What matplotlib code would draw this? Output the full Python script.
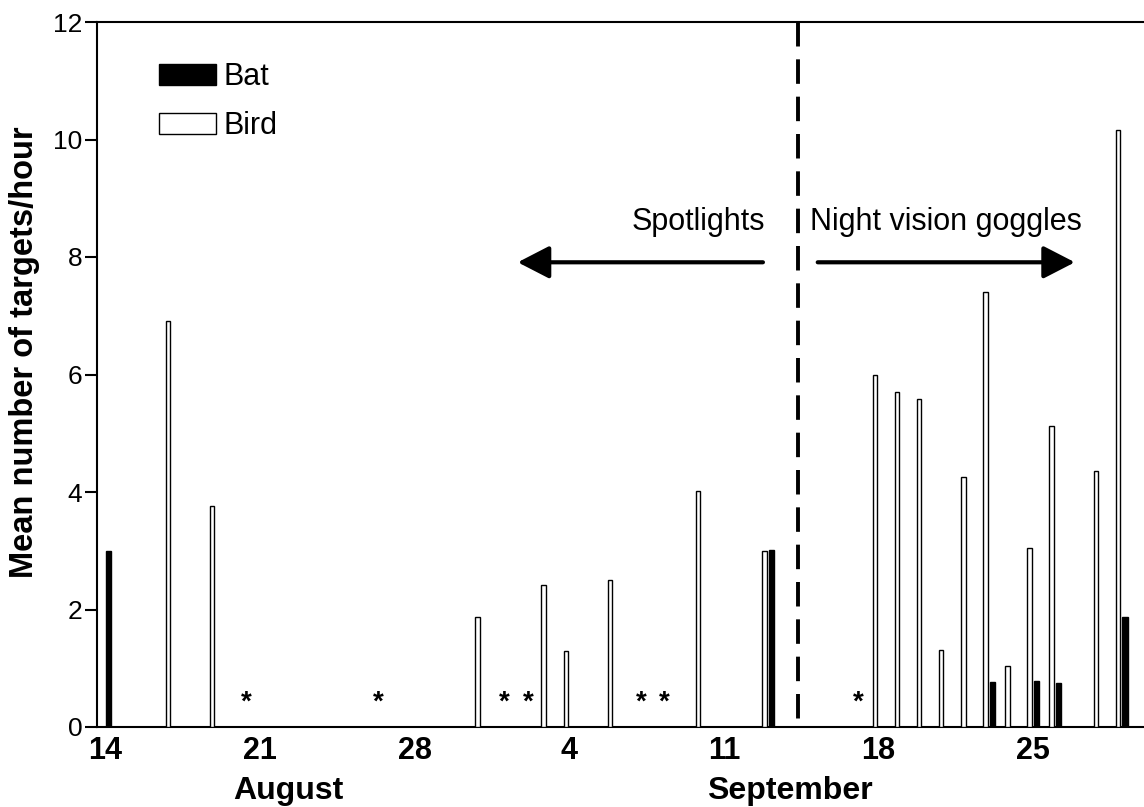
import matplotlib
matplotlib.use("Agg")
import matplotlib.pyplot as plt
from matplotlib.patches import Patch

plt.rcParams['font.family'] = ['Liberation Sans', 'DejaVu Sans']

# Nights, as days since 14 August
days = [0, 3, 5, 17, 20, 21, 23, 27, 30, 35, 36, 37, 38, 39, 40, 41, 42, 43, 45, 46]
bird = [0, 6.91, 3.76, 1.87, 2.42, 1.29, 2.50, 4.02, 3.00, 6.00, 5.71, 5.58,
        1.31, 4.25, 7.41, 1.04, 3.05, 5.13, 4.35, 10.16]
bat = [3.00, 0, 0, 0, 0, 0, 0, 0, 3.02, 0, 0, 0, 0, 0, 0.76, 0, 0.78, 0.75, 0, 1.87]

# nights without survey (asterisks), days since 14 August
no_survey = [6.4, 12.35, 18.05, 19.15, 24.25, 25.3, 34.1]

tick_days = [0, 7, 14, 21, 28, 35, 42]
tick_labels = ["14", "21", "28", "4", "11", "18", "25"]
months = ["August", "September"]
month_pos = [8.27, 31.0]

switch_day = 31.36

fig = plt.figure(figsize=(11.44, 8.07), dpi=100)
ax = fig.add_axes([97/1144, 80/807, 1 - 97/1144, (727-22)/807])

off = 0.158
ax.bar([d - off for d in days], bird, width=0.2, color='white', edgecolor='black',
       linewidth=1.0, label='Bird', zorder=3)
ax.bar([d + off for d in days], bat, width=0.24, color='black', edgecolor='black',
       linewidth=1.0, label='Bat', zorder=3)

for x in no_survey:
    ax.text(x, 0.3, "*", ha='center', va='baseline', fontsize=20, fontweight='bold')

ax.set_xlim(-0.376, 47.02)
ax.set_ylim(0, 12)
ax.set_yticks(range(0, 13, 2))
ax.set_xticks(tick_days)
ax.set_xticklabels(tick_labels, fontsize=22, fontweight='bold')
ax.tick_params(axis='x', length=0, pad=6.5)
ax.tick_params(axis='y', length=8.5, width=1.5, pad=2, labelsize=19)

for s in ['left', 'top', 'bottom']:
    ax.spines[s].set_linewidth(1.5)
ax.spines['right'].set_visible(False)

for m, p in zip(months, month_pos):
    ax.annotate(m, xy=(p, -0.0695), xycoords=('data', 'axes fraction'),
                ha='center', va='top', fontsize=23, fontweight='bold',
                annotation_clip=False)

ax.set_ylabel("Mean number of targets/hour", fontsize=23.5, fontweight='bold')
ax.yaxis.set_label_coords(-0.054, 0.532)

ax.plot([switch_day, switch_day], [12, 0], color='black', lw=2.8,
        dashes=(6.3, 3.3), zorder=4, clip_on=False)

ax.text(29.86, 8.6, "Spotlights", ha='right', va='center', fontsize=22)
ax.text(31.9, 8.6, "Night vision goggles", ha='left', va='center', fontsize=22)

ap = dict(arrowstyle='-|>,head_length=0.97,head_width=0.5', lw=3, color='black',
          mutation_scale=20, shrinkA=0, shrinkB=0)
ax.annotate("", xy=(18.67, 7.91), xytext=(29.77, 7.91), arrowprops=ap)
ax.annotate("", xy=(43.89, 7.91), xytext=(32.25, 7.91), arrowprops=ap)

handles = [Patch(facecolor='black', edgecolor='black', label='Bat'),
           Patch(facecolor='white', edgecolor='black', label='Bird')]
ax.legend(handles=handles, loc='upper left', bbox_to_anchor=(147/1144, 1 - 50/807),
          bbox_transform=fig.transFigure, frameon=False, fontsize=22,
          handlelength=1.86, handleheight=0.69, labelspacing=0.63, handletextpad=0.26,
          borderaxespad=0)

fig.savefig("out.png", dpi=100)
